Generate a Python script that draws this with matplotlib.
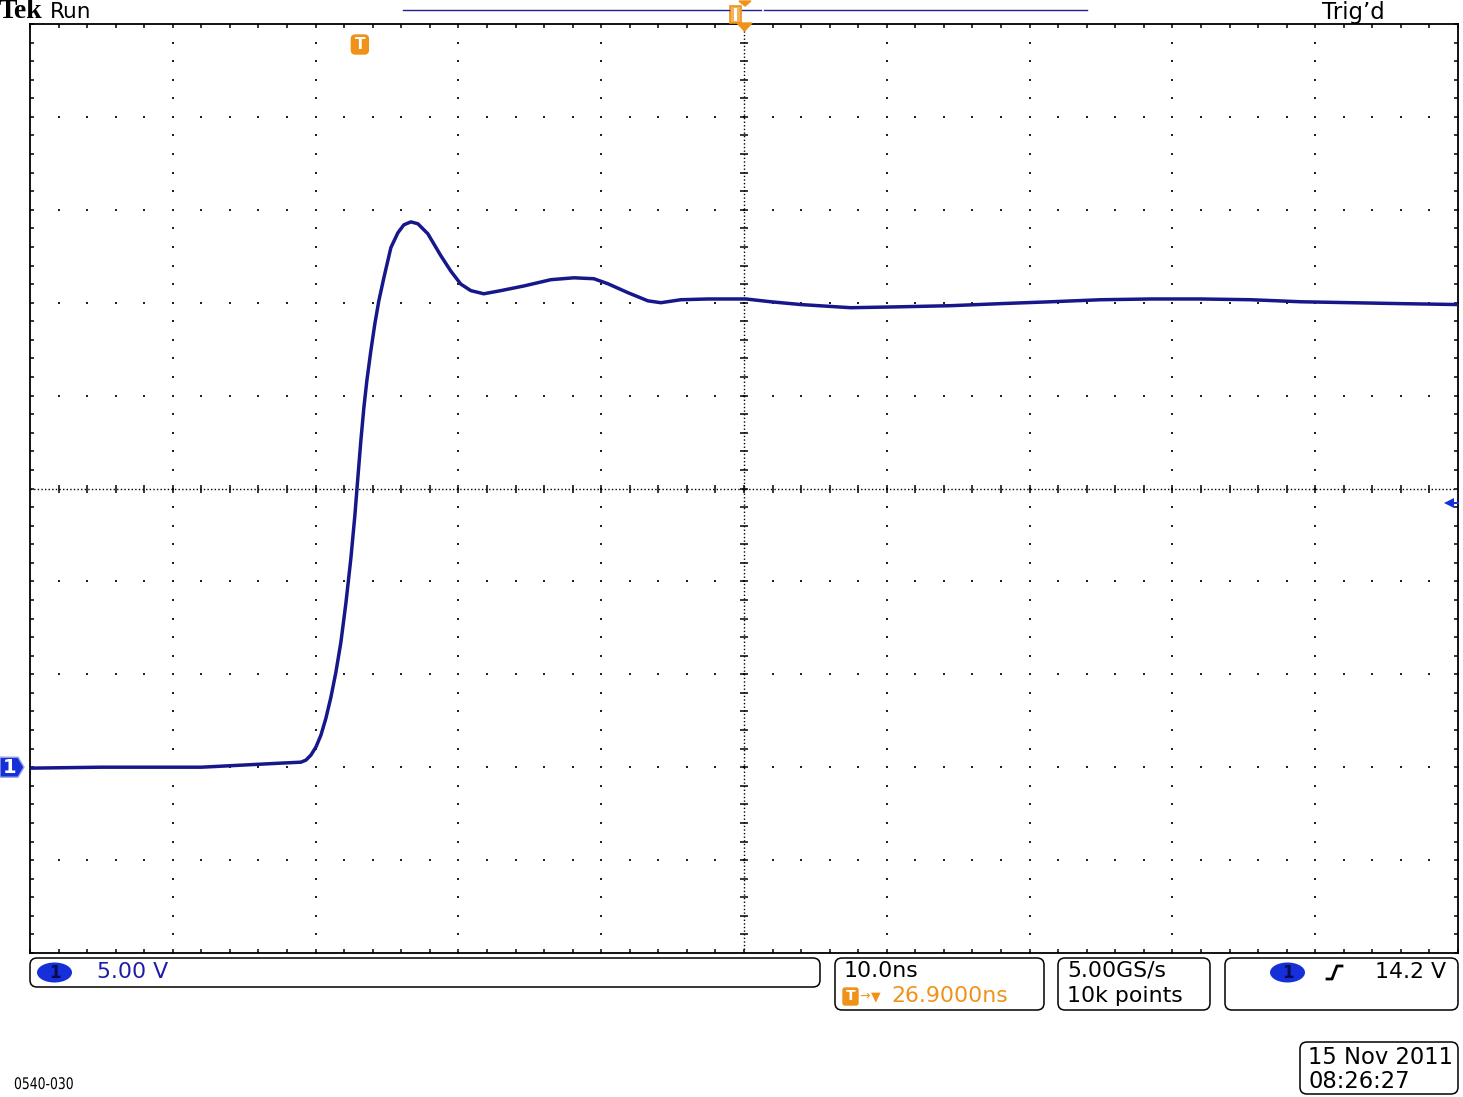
import numpy as np
import matplotlib
matplotlib.use("Agg")
import matplotlib.pyplot as plt
from matplotlib.patches import Polygon, FancyBboxPatch, Rectangle, Ellipse, PathPatch
from matplotlib.textpath import TextPath
from matplotlib.font_manager import FontProperties
from matplotlib.transforms import blended_transform_factory, Affine2D

# ---------------- data ----------------
# time relative to trigger (ns), channel 1 voltage (V)
time_ns = [-23.0, -18.1, -14.6, -11.1, -8.3, -5.5, -4.13, -3.78, -3.43, -3.08,
           -2.73, -2.38, -2.03, -1.68, -1.33, -0.98, -0.63, -0.35, -0.14, 0.07,
           0.28, 0.49, 0.77, 1.05, 1.33, 1.68, 2.17, 2.66, 3.08, 3.57, 4.06,
           4.76, 5.67, 6.37, 7.07, 7.77, 8.68, 9.87, 11.48, 13.38, 14.99, 16.39,
           17.37, 18.77, 20.17, 21.08, 22.48, 24.37, 27.03, 28.78, 30.88, 34.38,
           37.89, 41.39, 44.89, 48.39, 51.89, 55.39, 58.89, 62.39, 65.9, 69.4,
           72.9, 76.9]
volts = [-0.05, 0.0, 0.0, 0.0, 0.11, 0.22, 0.27, 0.38, 0.65, 1.08,
         1.72, 2.63, 3.76, 5.11, 6.72, 8.82, 11.24, 13.55, 15.59, 17.58,
         19.35, 20.81, 22.42, 23.87, 25.11, 26.34, 27.96, 28.76, 29.19, 29.35,
         29.25, 28.71, 27.53, 26.7, 26.0, 25.65, 25.48, 25.65, 25.9, 26.24,
         26.34, 26.29, 26.02, 25.54, 25.1, 25.0, 25.16, 25.2, 25.2, 25.05,
         24.9, 24.73, 24.78, 24.84, 24.95, 25.05, 25.16, 25.2, 25.2, 25.16,
         25.05, 25.0, 24.95, 24.9]

volts_per_div = 5.0
ns_per_div = 10.0
h_delay_ns = 26.9        # screen centre relative to trigger
ch1_offset_div = -3.0    # ground marker position (divisions from centre)
trigger_level = 14.2

scale_text = "5.00 V"
time_text = "10.0ns"
delay_text = "26.9000ns"
rate_text = "5.00GS/s"
points_text = "10k points"
trig_text = "14.2 V"
date_text = "15 Nov 2011"
clock_text = "08:26:27"
fig_id = "0540-030"

# ---------------- figure ----------------
W, H = 1463, 1097
fig = plt.figure(figsize=(W / 100, H / 100), dpi=100)
fig.patch.set_facecolor("white")

ax = fig.add_axes([30 / W, (H - 953) / H, 1428 / W, 929 / H])
xmin = h_delay_ns - 5 * ns_per_div
xmax = h_delay_ns + 5 * ns_per_div
ycen = -ch1_offset_div * volts_per_div
ymin = ycen - 5 * volts_per_div
ymax = ycen + 5 * volts_per_div
ax.set_xlim(xmin, xmax)
ax.set_ylim(ymin, ymax)
ax.set_facecolor("none")
for s in ax.spines.values():
    s.set_linewidth(1.3)
    s.set_color("black")

minor_x = xmin + np.arange(0, 51) * ns_per_div / 5
minor_y = ymin + np.arange(0, 51) * volts_per_div / 5
major_x = xmin + np.arange(1, 10) * ns_per_div
major_y = ymin + np.arange(1, 10) * volts_per_div

ax.set_xticks(minor_x)
ax.set_yticks(minor_y)
ax.tick_params(direction="in", length=3.2, width=1.1, top=True, right=True,
               labelbottom=False, labelleft=False, color="black")

dot_kw = dict(ls="none", marker="s", ms=1.5, mew=0, color="#222222")
for gx in major_x:
    if abs(gx - h_delay_ns) < 1e-6:
        continue
    ax.plot(np.full(len(minor_y), gx), minor_y, **dot_kw)
for gy in major_y:
    if abs(gy - ycen) < 1e-6:
        continue
    ax.plot(minor_x, np.full(len(minor_x), gy), **dot_kw)

# centre lines
ax.axvline(h_delay_ns, color="black", lw=1.0, ls=(0, (1, 1.6)))
ax.axhline(ycen, color="black", lw=1.0, ls=(0, (1, 1.6)))
ax.plot(minor_x[1:-1], np.full(len(minor_x) - 2, ycen), ls="none",
        marker="|", ms=5.5, mew=1.1, color="black")
ax.plot(np.full(len(minor_y) - 2, h_delay_ns), minor_y[1:-1], ls="none",
        marker="_", ms=5.5, mew=1.1, color="black")

# waveform
ax.plot(time_ns, volts, color="#17178c", lw=2.5, solid_joinstyle="round",
        solid_capstyle="round", zorder=5)

BLUE = "#1530d8"
ORANGE = "#f0921a"

# trigger level marker on right edge
tr = blended_transform_factory(ax.transAxes, ax.transData)
ax.plot([0.9935], [trigger_level], transform=tr, marker="<", ms=7.5, mew=0,
        color=BLUE, clip_on=False, zorder=6)
ax.plot([0.995, 1.0], [trigger_level, trigger_level], transform=tr,
        color=BLUE, lw=1.5, clip_on=False, zorder=6)

# ---------------- overlay (screen furniture) ----------------
ov = fig.add_axes([0, 0, 1, 1], zorder=10)
ov.set_xlim(0, W)
ov.set_ylim(H, 0)
ov.axis("off")
ov.patch.set_visible(False)


def data_to_px(x, y):
    d = ax.transData.transform((x, y))
    return ov.transData.inverted().transform(d)


# ground marker (channel 1) on left
_, gy = data_to_px(xmin, 0.0)
ov.add_patch(Polygon([[0, gy - 10], [18, gy - 10], [24, gy], [18, gy + 10],
                      [0, gy + 10]], closed=True, facecolor=BLUE,
                     edgecolor="#9aa6e8", lw=1.0, zorder=7))
ov.text(10, gy + 0.5, "1", color="white", fontsize=14, fontweight="bold",
        ha="center", va="center", zorder=8)

# trigger position marker "T" on top
tx, _ = data_to_px(0.0, ymax)
ov.add_patch(FancyBboxPatch((tx - 8.5, 35), 17, 19,
                            boxstyle="round,pad=0,rounding_size=4",
                            facecolor=ORANGE, edgecolor=ORANGE, zorder=7))
ov.text(tx, 44.5, "T", color="white", fontsize=11, fontweight="bold",
        ha="center", va="center", zorder=8)

ov.text(-1, 12, "Tek", fontsize=20, fontweight="bold", family="Liberation Serif",
        ha="left", va="center", color="black")
ov.text(50, 12, "Run", fontsize=15.5, ha="left", va="center", color="black")
ov.text(1322, 12, "Trig\u2019d", fontsize=16.5, ha="left", va="center", color="black")

# record bar
NAVY = "#22228a"
ov.plot([403, 729], [10, 10], color=NAVY, lw=1.0)
ov.plot([742, 761], [10, 10], color=NAVY, lw=1.0)
ov.plot([764, 1087], [10, 10], color=NAVY, lw=1.0)
ov.add_patch(Rectangle((730, 6), 11, 17, facecolor="#f3b35a", edgecolor=ORANGE, lw=1.2))
ov.add_patch(Rectangle((734, 8), 3, 13, facecolor="white", edgecolor="none"))
ov.add_patch(Polygon([[739, 1], [751, 1], [745, 6]], closed=True, color=ORANGE))
ov.add_patch(Polygon([[737, 23], [752, 23], [744.5, 31]], closed=True, color=ORANGE))


# bottom readout boxes
def rbox(x0, y0, x1, y1):
    ov.add_patch(FancyBboxPatch((x0, y0), x1 - x0, y1 - y0,
                                boxstyle="round,pad=0,rounding_size=7",
                                facecolor="white", edgecolor="black", lw=1.1))


rbox(30, 958, 820, 987)
rbox(835, 958, 1044, 1010)
rbox(1058, 958, 1210, 1010)
rbox(1225, 958, 1458, 1010)
rbox(1300, 1042, 1458, 1094)

FS = 15.8
ov.add_patch(Ellipse((54.5, 972.5), 35, 20, facecolor=BLUE, edgecolor="none"))
ov.text(54.5, 973, "1", fontsize=12, fontweight="bold", color="#0a0a50",
        ha="center", va="center")
ov.text(97, 972, scale_text, fontsize=FS, color="#1c1ca8", ha="left", va="center")

ov.text(844, 971, time_text, fontsize=FS, color="black", ha="left", va="center")
ov.add_patch(FancyBboxPatch((843, 988), 15, 17, boxstyle="round,pad=0,rounding_size=2",
                            facecolor=ORANGE, edgecolor=ORANGE))
ov.text(850.5, 996.5, "T", fontsize=10, fontweight="bold", color="white",
        ha="center", va="center")
ov.text(859, 996, "\u2192", fontsize=9, color=ORANGE, ha="left", va="center")
ov.text(871, 997, "\u25bc", fontsize=9, color=ORANGE, ha="left", va="center")
ov.text(891, 996, delay_text, fontsize=FS, color=ORANGE, ha="left", va="center")

ov.text(1067, 971, rate_text, fontsize=FS, color="black", ha="left", va="center")
ov.text(1067, 996, points_text, fontsize=FS, color="black", ha="left", va="center")

ov.add_patch(Ellipse((1287.5, 972.5), 35, 20, facecolor=BLUE, edgecolor="none"))
ov.text(1287.5, 973, "1", fontsize=12, fontweight="bold", color="#0a0a50",
        ha="center", va="center")
ov.plot([1327, 1332, 1337, 1342], [979, 979, 966, 966], color="black", lw=2.0,
        solid_joinstyle="round")
ov.text(1446, 972, trig_text, fontsize=FS, color="black", ha="right", va="center")

ov.text(1308, 1057, date_text, fontsize=16.3, color="black", ha="left", va="center")
ov.text(1308, 1081, clock_text, fontsize=16.3, color="black", ha="left", va="center")

# small condensed figure id at bottom left
tp = TextPath((0, 0), fig_id, size=16, prop=FontProperties(family="DejaVu Sans"))
ext = tp.get_extents()
sx = 58.0 / ext.width
ov.add_patch(PathPatch(tp, transform=Affine2D().scale(sx, -1.0).translate(14, 1089)
                       + ov.transData, facecolor="black", edgecolor="none", lw=0))

fig.savefig("out.png", dpi=100, facecolor="white")
